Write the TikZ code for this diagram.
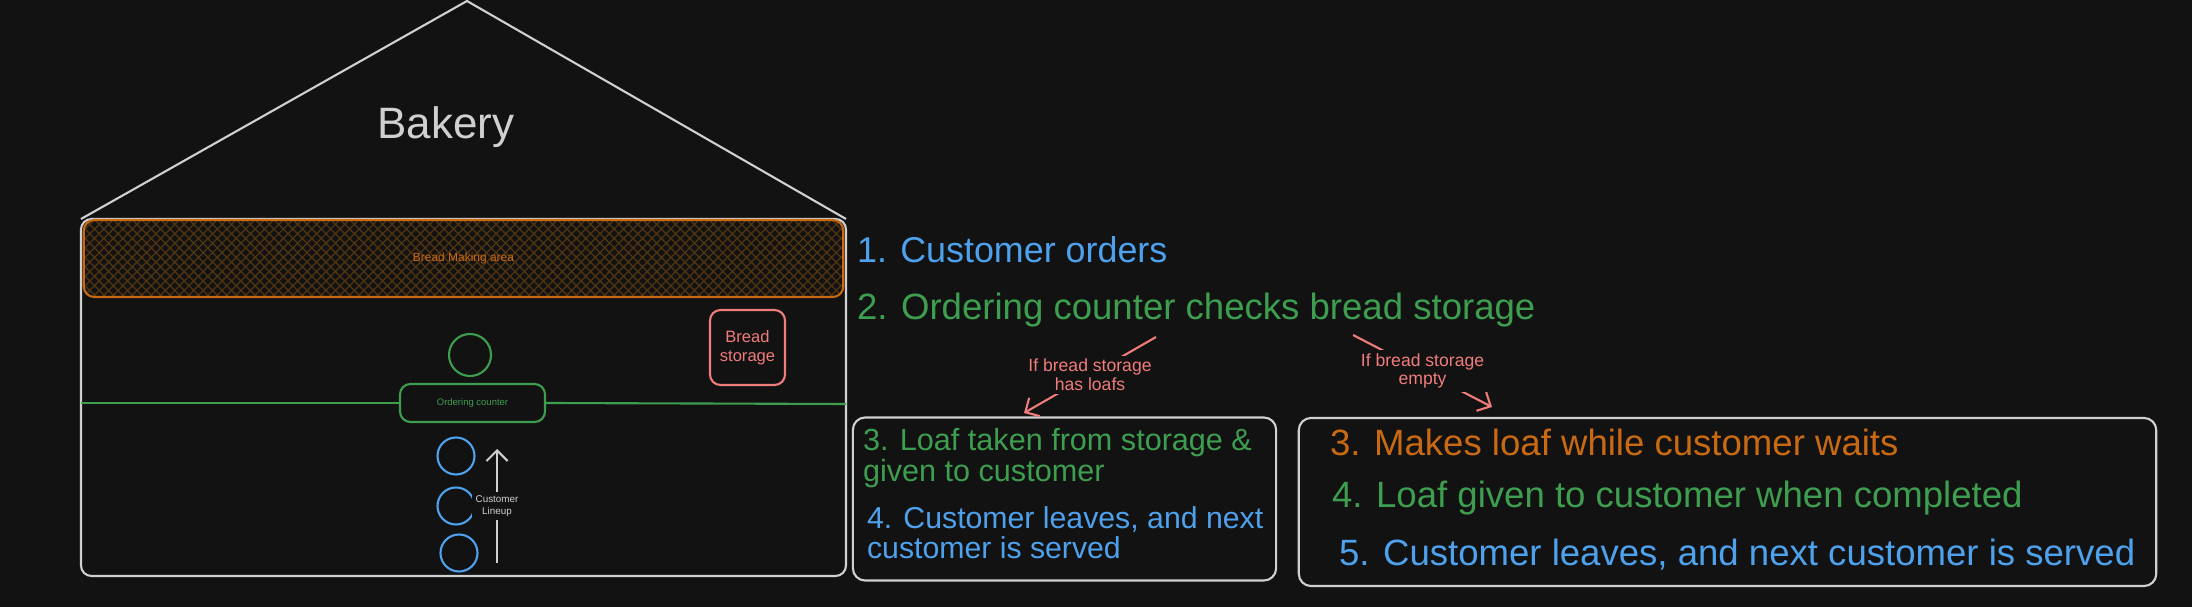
\documentclass[tikz,border=0pt]{standalone}
\usepackage{fontspec}
\setmainfont{Liberation Sans}
\usetikzlibrary{arrows.meta,patterns.meta}
\definecolor{bg}{HTML}{121212}
\definecolor{chalk}{HTML}{D0D0D0}
\definecolor{skyc}{HTML}{4EA1EC}
\definecolor{leafc}{HTML}{3E9E4F}
\definecolor{rustc}{HTML}{C96A12}
\definecolor{rosec}{HTML}{F07C7C}
\definecolor{hatchc}{HTML}{4E3312}
\newcommand{\fsz}[2]{\fontsize{#1}{#2}\selectfont}
\begin{document}
\begin{tikzpicture}[x=0.01cm, y=-0.01cm, >={Straight Barb[length=3pt]}, line width=0.6pt,
	wall/.style={draw=chalk, line width=0.6pt},
	person/.style={circle, draw=#1, line width=0.6pt, minimum size=0.37cm, inner sep=0pt},
	zone/.style={draw=#1, rounded corners=3pt, line width=0.6pt, text=#1, align=center, inner sep=0pt},
	listbox/.style={draw=chalk, rounded corners=3.5pt, line width=0.6pt, inner sep=0pt},
	item/.style={anchor=west, inner sep=0pt, align=left, text=#1},
	cond/.style={fill=bg, text=rosec, align=center, inner sep=1pt, font=\fsz{5}{5.3}}]
	\fill[bg] (0,0) rectangle (2192,607);
	\useasboundingbox (0,0) rectangle (2192,607);
	\draw[wall, rounded corners=3pt] (81,219) rectangle (846,576);
	\draw[wall, line join=round] (81,219) -- (467,1) -- (846,219);
	\node[text=chalk, inner sep=0pt, font=\fsz{12.5}{14}] (title) at (446,127) {Bakery};
	\node[zone=rustc, pattern={Hatch[angle=45, distance=1.9pt, line width=0.4pt]}, pattern color=hatchc,
		minimum width=7.59cm, minimum height=0.77cm, font=\fsz{3.4}{4}] (making) at (463.5,258.5) {Bread Making area};
	\node[person=leafc, minimum size=0.42cm] (baker) at (470,355) {};
	\node[zone=rosec, minimum width=0.75cm, minimum height=0.75cm, font=\fsz{4.7}{5.4}] (storage) at (747.5,347.5) {Bread\\storage};
	\node[zone=leafc, minimum width=1.45cm, minimum height=0.38cm, font=\fsz{2.7}{3.2}] (counter) at (472.5,403) {Ordering counter};
	\coordinate (wl) at (81,403);
	\coordinate (wr) at (846,404);
	\draw[leafc] (wl) -- (counter.west);
	\draw[leafc] (counter.east) -- (wr);
	\node[person=skyc] (c1) at (456,456) {};
	\node[person=skyc] (c2) at (456,506) {};
	\node[person=skyc] (c3) at (459,553) {};
	\coordinate (qs) at (497,563);
	\coordinate (qe) at (497,449);
	\draw[->, chalk] (qs) -- node[fill=bg, text=chalk, align=center, inner sep=1pt, font=\fsz{2.8}{3.3}] (lineup) {Customer\\Lineup} (qe);
	\node[item=skyc, font=\fsz{10.2}{12}] (step1) at (856,250) {1. Customer orders};
	\node[item=leafc, font=\fsz{10.4}{12}] (step2) at (856,310) {2. Ordering counter checks bread storage};
	\node[listbox, minimum width=4.23cm, minimum height=1.63cm] (havebox) at (1064.5,499) {};
	\node[listbox, minimum width=8.57cm, minimum height=1.68cm] (emptybox) at (1727.5,502) {};
	\coordinate (t1) at (1156,337);
	\coordinate (h1) at (1024,413);
	\coordinate (t2) at (1353,335);
	\coordinate (h2) at (1492,407);
	\draw[->, rosec] (t1) -- node[cond] (hasloafs) {If bread storage\\has loafs} (h1);
	\draw[->, rosec] (t2) -- node[cond] (isempty) {If bread storage\\empty} (h2);
	\node[item=leafc, font=\fsz{8.7}{8.6}] (have3) at (862,458) {3. Loaf taken from storage \&\\given to customer};
	\node[item=skyc, font=\fsz{8.6}{8.6}] (have4) at (866,533) {4. Customer leaves, and next\\customer is served};
	\node[item=rustc, font=\fsz{10.4}{12}] (empty3) at (1329,442) {3. Makes loaf while customer waits};
	\node[item=leafc, font=\fsz{10.4}{12}] (empty4) at (1331,498) {4. Loaf given to customer when completed};
	\node[item=skyc, font=\fsz{10.4}{12}] (empty5) at (1338,555) {5. Customer leaves, and next customer is served};
\end{tikzpicture}
\end{document}
